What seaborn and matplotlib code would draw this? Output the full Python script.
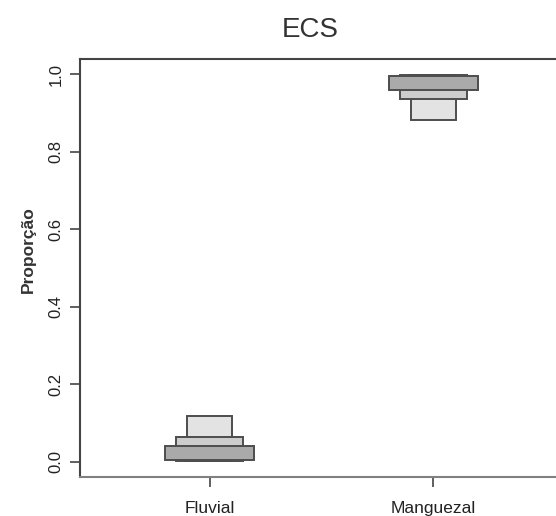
import matplotlib
matplotlib.use("Agg")
import matplotlib.pyplot as plt
import seaborn as sns
import pandas as pd

# Source groups and credible-interval bounds of the estimated proportions
sources = ["Fluvial", "Manguezal"]
ci95_low = [0.001, 0.882]
ci95_high = [0.118, 0.999]
ci75_low = [0.002, 0.937]
ci75_high = [0.063, 0.998]
ci50_low = [0.005, 0.960]
ci50_high = [0.040, 0.995]
yticks = [0.0, 0.2, 0.4, 0.6, 0.8, 1.0]

sns.set_style("white")
plt.rcParams["font.family"] = ["Liberation Sans", "DejaVu Sans"]

fig = plt.figure(figsize=(5.56, 5.16), dpi=100)
ax = fig.add_axes([80 / 556, 39 / 516, 483 / 556, 418 / 516])

# widest/darkest = 50 %, narrowest/lightest = 95 %; drawn from widest interval first
layers = [
    (ci95_low, ci95_high, 0.2, "#e3e3e3"),
    (ci75_low, ci75_high, 0.3, "#cdcdcd"),
    (ci50_low, ci50_high, 0.4, "#aaaaaa"),
]
for low, high, width, color in layers:
    df = pd.DataFrame({"fonte": sources,
                       "altura": [h - l for l, h in zip(low, high)]})
    sns.barplot(data=df, x="fonte", y="altura", order=sources,
                bottom=low, width=width, color=color, saturation=1,
                edgecolor="#4d4d4d", linewidth=1.4, ax=ax, errorbar=None)

ax.set_xlim(-0.58, 1.58)
ax.set_ylim(-0.04, 1.04)
ax.set_yticks(yticks)
ax.set_yticklabels([f"{v:.1f}" for v in yticks], rotation=90, va="center",
                   fontsize=12, color="#222222")
ax.set_xticks([0, 1])
ax.set_xticklabels(sources, fontsize=12.5, color="#222222")
ax.set_xlabel("")
ax.set_ylabel("Proporção", fontsize=12.5, fontweight="bold", color="#333333")
ax.yaxis.set_label_coords(-0.092, 0.545)

ax.tick_params(axis="y", direction="out", length=7, width=1.2,
               color="#444444", pad=5, left=True)
ax.tick_params(axis="x", direction="out", length=7, width=1.2,
               color="#444444", pad=10, bottom=True)

for side in ["left", "top"]:
    ax.spines[side].set_color("#444444")
    ax.spines[side].set_linewidth(1.5)
ax.spines["bottom"].set_color("#808080")
ax.spines["bottom"].set_linewidth(1.5)
ax.spines["right"].set_visible(False)

fig.text(310 / 556, 1 - 37 / 516, "ECS", ha="center", va="baseline",
         fontsize=20, color="#333333")

fig.savefig("out.png", dpi=100)
